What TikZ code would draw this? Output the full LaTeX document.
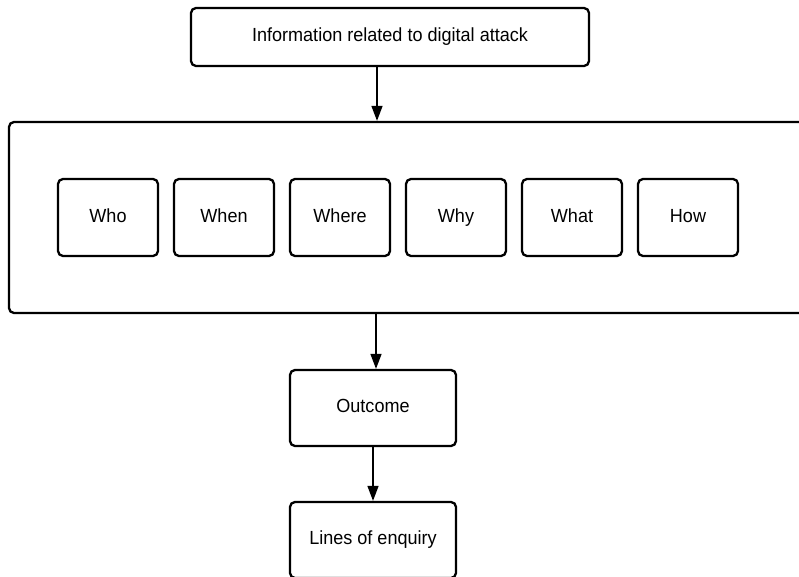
\documentclass[tikz,border=0pt]{standalone}
\usepackage{fontspec}
\setmainfont[FakeStretch=0.95]{Liberation Sans}
\usetikzlibrary{arrows.meta}
\tikzset{
  box/.style={draw=black, line width=2.3pt, rounded corners=5pt, fill=white, align=center, inner sep=0pt, text height=13.7pt, text depth=4pt, font=\fontsize{19}{23}\selectfont},
  arr/.style={line width=1.5pt, -{Triangle[length=15pt,width=11pt]}},
}
\begin{document}
\begin{tikzpicture}[x=1pt,y=-1pt]
\useasboundingbox (0,0) rectangle (799,577);
\clip (0,0) rectangle (799,577);
\fill[white] (0,0) rectangle (799,577);
\node[box, minimum width=398pt, minimum height=58pt] (top) at (390,37) {Information related to digital attack};
\node[box, minimum width=811pt, minimum height=191pt] (big) at (414.5,217.5) {};
\node[box, minimum width=100pt, minimum height=77pt] (who) at (108,217.5) {Who};
\node[box, minimum width=100pt, minimum height=77pt] (when) at (224,217.5) {When};
\node[box, minimum width=100pt, minimum height=77pt] (where) at (340,217.5) {Where};
\node[box, minimum width=100pt, minimum height=77pt] (why) at (456,217.5) {Why};
\node[box, minimum width=100pt, minimum height=77pt] (what) at (572,217.5) {What};
\node[box, minimum width=100pt, minimum height=77pt] (how) at (688,217.5) {How};
\node[box, minimum width=166pt, minimum height=76pt] (out) at (373,408) {Outcome};
\node[box, minimum width=166pt, minimum height=76pt] (lines) at (373,540) {Lines of enquiry};
\coordinate (c1) at (377,0);
\coordinate (c2) at (376,0);
\draw[arr] (top.south -| c1) -- (big.north -| c1);
\draw[arr] (big.south -| c2) -- (out.north -| c2);
\draw[arr] (out.south) -- (lines.north);
\end{tikzpicture}
\end{document}
